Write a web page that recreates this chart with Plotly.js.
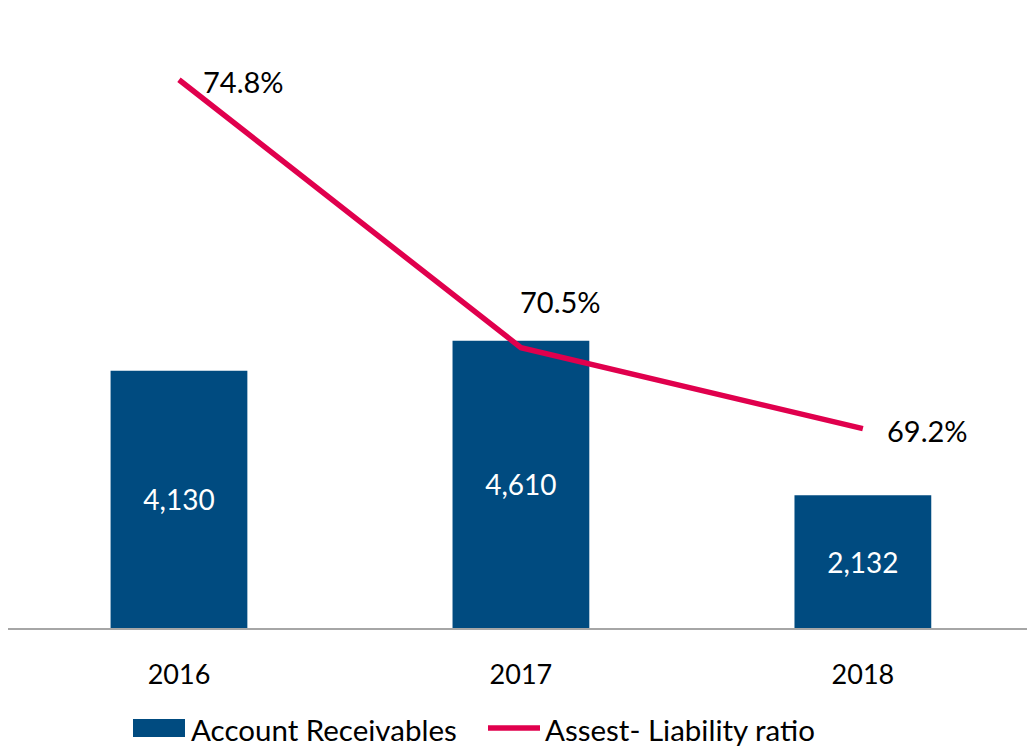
<!DOCTYPE html>
<html>
<head>
<meta charset="utf-8">
<script src="https://cdn.plot.ly/plotly-3.0.1.min.js"></script>
<style>
html,body{margin:0;padding:0;background:#fff;}
#chart{width:1027px;height:748px;}
</style>
</head>
<body>
<div id="chart"></div>
<script>
var categories = ['2016', '2017', '2018'];
var receivables = [4130, 4610, 2132];
var ratio = [74.8, 70.5, 69.2];
var receivableLabels = ['4,130', '4,610', '2,132'];
var ratioLabels = ['74.8%', '70.5%', '69.2%'];
var seriesNames = ['Account Receivables', 'Assest- Liability ratio'];

var FONT = 'Lato, "Open Sans", sans-serif';
var BAR_COLOR = '#004B80';
var LINE_COLOR = '#E0004D';

var W = 1027, H = 748;
var M = {l: 8, r: 0, t: 5, b: 120};
var PW = W - M.l - M.r, PH = H - M.t - M.b;
function px(x) { return (x - M.l) / PW; }
function py(y) { return (H - M.b - y) / PH; }

var barTrace = {
  type: 'bar',
  x: categories,
  y: receivables,
  name: seriesNames[0],
  width: 0.4,
  marker: {color: BAR_COLOR},
  text: receivableLabels,
  textposition: 'inside',
  insidetextanchor: 'middle',
  textangle: 0,
  textfont: {family: FONT, size: 28, color: '#FFFFFF'},
  hoverinfo: 'x+y',
  showlegend: false
};

var lineTrace = {
  type: 'scatter',
  mode: 'lines',
  x: categories,
  y: ratio,
  yaxis: 'y2',
  name: seriesNames[1],
  line: {color: LINE_COLOR, width: 5.5},
  hoverinfo: 'x+y',
  showlegend: false
};

var shifts = [{x: 22, y: -2}, {x: -3, y: 46}, {x: 22, y: -2}];
var annotations = categories.map(function (c, i) {
  return {
    x: i, y: ratio[i], xref: 'x', yref: 'y2',
    text: ratioLabels[i], showarrow: false,
    xanchor: 'left', yanchor: 'middle',
    xshift: shifts[i].x, yshift: shifts[i].y,
    font: {family: FONT, size: 29, color: '#000000'}
  };
});

// custom legend (matches reference swatch sizes), nudged up so it is not clipped
var LEG_Y = 729;
annotations.push({
  xref: 'paper', yref: 'paper', x: px(189), y: py(LEG_Y),
  xanchor: 'left', yanchor: 'middle', showarrow: false,
  text: seriesNames[0], font: {family: FONT, size: 29.5, color: '#000000'}
});
annotations.push({
  xref: 'paper', yref: 'paper', x: px(543), y: py(LEG_Y),
  xanchor: 'left', yanchor: 'middle', showarrow: false,
  text: seriesNames[1], font: {family: FONT, size: 29.5, color: '#000000'}
});
var shapes = [
  {type: 'rect', xref: 'paper', yref: 'paper', x0: px(133), x1: px(185), y0: py(LEG_Y + 8), y1: py(LEG_Y - 10),
   fillcolor: BAR_COLOR, line: {width: 0}},
  {type: 'line', xref: 'paper', yref: 'paper', x0: px(488), x1: px(540), y0: py(LEG_Y - 1), y1: py(LEG_Y - 1),
   line: {color: LINE_COLOR, width: 5.5}}
];

var layout = {
  width: W, height: H,
  margin: M,
  paper_bgcolor: '#FFFFFF',
  plot_bgcolor: '#FFFFFF',
  font: {family: FONT, color: '#000000'},
  showlegend: false,
  xaxis: {
    type: 'category',
    range: [-0.5, 2.48],
    showline: true, linecolor: '#A6A6A6', linewidth: 1.5,
    showgrid: false, zeroline: false,
    ticks: 'outside', ticklen: 22, tickcolor: 'rgba(0,0,0,0)',
    tickfont: {family: FONT, size: 27, color: '#000000'}
  },
  yaxis: {
    range: [0, 10000],
    showticklabels: false, showline: false, ticks: '', showgrid: false, zeroline: false
  },
  yaxis2: {
    range: [66, 76],
    overlaying: 'y', side: 'right',
    showticklabels: false, showline: false, ticks: '', showgrid: false, zeroline: false
  },
  annotations: annotations,
  shapes: shapes
};

Plotly.newPlot('chart', [barTrace, lineTrace], layout, {displayModeBar: false, staticPlot: true});
</script>
</body>
</html>
